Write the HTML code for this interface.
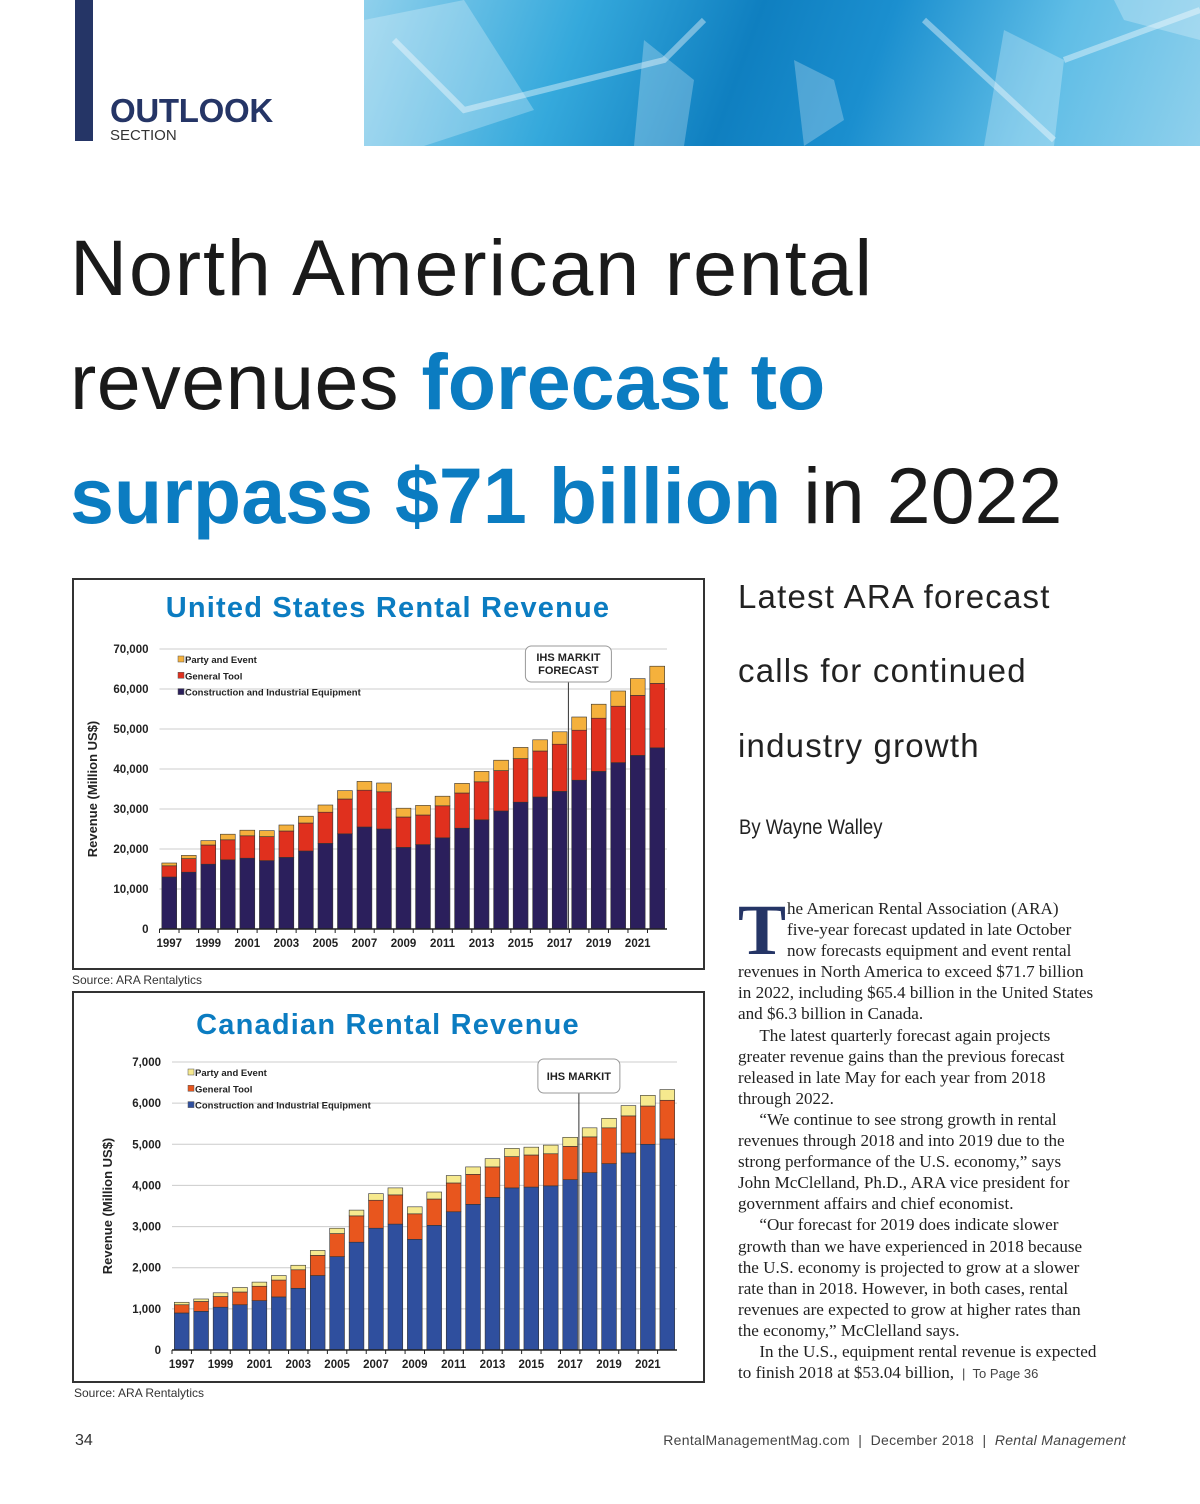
<!DOCTYPE html>
<html><head><meta charset="utf-8">
<style>
body{margin:0;width:1200px;height:1504px;position:relative;background:#fff;overflow:hidden;font-family:"Liberation Sans",sans-serif;}
.abs{position:absolute;white-space:nowrap;}
.title{font-size:79px;color:#1a1a1a;letter-spacing:0.5px;}
.title b{color:#0b7cc1;letter-spacing:0;}
.right{font-size:33px;color:#222;letter-spacing:1.2px;}
.body{font-family:"Liberation Serif",serif;font-size:17.1px;color:#222;line-height:21.1px;}
.box{position:absolute;border:2px solid #333;background:#fff;}
</style></head><body>
<div class="abs" style="left:364px;top:0;width:836px;height:146px;background:linear-gradient(110deg,#8fd0ec 0%,#35a9dc 25%,#0f7fc0 45%,#1b8fcf 60%,#5fbde6 80%,#8fd0ec 100%);overflow:hidden">
<svg width="836" height="146"><g fill="#ffffff" opacity="0.25"><polygon points="0,20 100,0 170,110 60,146 0,146"/><polygon points="280,40 330,80 320,146 270,146"/><polygon points="430,60 470,80 480,120 440,146"/><polygon points="640,30 700,60 690,146 620,146"/><polygon points="750,0 836,0 836,40 760,20"/></g><g stroke="#fff" stroke-width="6" opacity="0.4" fill="none"><path d="M30,40 L100,110 L300,60 L340,20"/><path d="M560,20 L690,140"/><path d="M700,60 L836,10"/></g></svg></div>
<div class="abs" style="left:75px;top:0;width:18px;height:141px;background:#253566"></div>
<div class="abs" style="left:110px;top:92px;font-size:33px;font-weight:bold;color:#253566;letter-spacing:-0.3px">OUTLOOK</div>
<div class="abs" style="left:110px;top:127px;font-size:15px;color:#333">SECTION</div>

<div class="abs title" style="left:70px;top:222px;letter-spacing:1.9px">North American rental</div>
<div class="abs title" style="left:70px;top:336px">revenues <b>forecast to</b></div>
<div class="abs title" style="left:70px;top:450px;letter-spacing:0"><b>surpass $71 billion</b> in 2022</div>

<div class="abs right" style="left:738px;top:578px">Latest ARA forecast</div>
<div class="abs right" style="left:738px;top:652px">calls for continued</div>
<div class="abs right" style="left:738px;top:727px">industry growth</div>
<div class="abs" style="left:739px;top:816px;font-size:21px;color:#222;transform:scaleX(0.88);transform-origin:left">By Wayne Walley</div>

<div class="abs" style="left:738px;top:902px;width:45px;height:52px;font-family:'Liberation Serif',serif;font-size:72px;font-weight:bold;color:#253566;line-height:56px">T</div>
<div class="abs body" style="left:738px;top:898px;width:390px">
<div style="padding-left:49px">he American Rental Association (ARA)</div>
<div style="padding-left:49px">five-year forecast updated in late October</div>
<div style="padding-left:49px">now forecasts equipment and event rental</div>
<div>revenues in North America to exceed $71.7 billion</div>
<div>in 2022, including $65.4 billion in the United States</div>
<div>and $6.3 billion in Canada.</div>
<div>&nbsp;&nbsp;&nbsp;&nbsp;&nbsp;The latest quarterly forecast again projects</div>
<div>greater revenue gains than the previous forecast</div>
<div>released in late May for each year from 2018</div>
<div>through 2022.</div>
<div>&nbsp;&nbsp;&nbsp;&nbsp;&nbsp;“We continue to see strong growth in rental</div>
<div>revenues through 2018 and into 2019 due to the</div>
<div>strong performance of the U.S. economy,” says</div>
<div>John McClelland, Ph.D., ARA vice president for</div>
<div>government affairs and chief economist.</div>
<div>&nbsp;&nbsp;&nbsp;&nbsp;&nbsp;“Our forecast for 2019 does indicate slower</div>
<div>growth than we have experienced in 2018 because</div>
<div>the U.S. economy is projected to grow at a slower</div>
<div>rate than in 2018. However, in both cases, rental</div>
<div>revenues are expected to grow at higher rates than</div>
<div>the economy,” McClelland says.</div>
<div>&nbsp;&nbsp;&nbsp;&nbsp;&nbsp;In the U.S., equipment rental revenue is expected</div>
<div>to finish 2018 at $53.04 billion, <span style="font-family:'Liberation Sans',sans-serif;font-size:13px;color:#444">&nbsp;| &nbsp;To Page 36</span></div>
</div>

<div class="box" style="left:72px;top:578px;width:629px;height:388px"></div>
<div class="box" style="left:72px;top:991px;width:629px;height:388px"></div>
<div class="abs" style="left:72px;top:973px;font-size:12px;color:#333">Source: ARA Rentalytics</div>
<div class="abs" style="left:74px;top:1386px;font-size:12px;color:#333">Source: ARA Rentalytics</div>

<svg id="charts" class="abs" style="left:0;top:0" width="1200" height="1504"></svg>

<div class="abs" style="left:75px;top:1432px;font-size:16px;color:#333">34</div>
<div class="abs" style="right:74px;top:1432px;font-size:14px;color:#444;letter-spacing:0.3px">RentalManagementMag.com &nbsp;| &nbsp;December 2018 &nbsp;| &nbsp;<i>Rental Management</i></div>

<script>
const years = [1997,1998,1999,2000,2001,2002,2003,2004,2005,2006,2007,2008,2009,2010,2011,2012,2013,2014,2015,2016,2017,2018,2019,2020,2021,2022];
const usConstruction = [13000,14200,16200,17300,17700,17100,17900,19500,21400,23800,25500,25000,20400,21100,22800,25200,27300,29500,31700,33000,34400,37200,39400,41600,43400,45300];
const usGeneralTool = [2800,3400,4800,5000,5600,6000,6600,7000,7800,8700,9200,9300,7600,7400,8000,8800,9500,10100,10900,11500,11800,12500,13300,14100,15000,16100];
const usPartyEvent = [700,800,1100,1400,1400,1500,1500,1700,1800,2100,2200,2200,2200,2400,2400,2400,2600,2600,2800,2800,3100,3300,3500,3800,4200,4300];
const caConstruction = [900,940,1040,1100,1200,1290,1500,1810,2270,2620,2960,3060,2690,3030,3360,3540,3710,3940,3960,3990,4140,4310,4530,4790,5000,5130];
const caGeneralTool = [200,240,260,310,350,410,450,490,560,640,680,710,620,640,700,730,740,760,780,780,810,870,870,900,930,940];
const caPartyEvent = [60,60,90,110,100,110,110,120,130,140,160,170,170,170,180,180,200,200,190,210,220,220,230,250,260,260];
const usTicks = [0,10000,20000,30000,40000,50000,60000,70000];
const caTicks = [0,1000,2000,3000,4000,5000,6000,7000];
const xLabelYears = [1997,1999,2001,2003,2005,2007,2009,2011,2013,2015,2017,2019,2021];
const seriesNames = ['Party and Event','General Tool','Construction and Industrial Equipment'];

const NS='http://www.w3.org/2000/svg';
const svg=document.getElementById('charts');
function mk(tag,attrs,parent){const e=document.createElementNS(NS,tag);for(const k in attrs)e.setAttribute(k,attrs[k]);(parent||svg).appendChild(e);return e;}
function fmt(v){return v.toLocaleString('en-US');}

function drawChart(c){
  const g=mk('g',{});
  
  
  const yS=v=>c.y0-(v/c.max)*(c.y0-c.yTop);
  const band=(c.x1-c.x0)/years.length;
  const xC=i=>c.x0+band*(i+0.5);
  const t=mk('text',{x:388,y:c.titleY,'text-anchor':'middle','font-size':29,'font-weight':'bold',fill:'#0b7cc1','letter-spacing':1.2},g);
  t.textContent=c.title;
  
  
  c.ticks.forEach(v=>{
    const l=mk('line',{x1:c.x0,x2:c.x1,y1:yS(v),y2:yS(v),stroke:'#ccc','stroke-width':1},g);
    
    
    const tt=mk('text',{x:c.x0-11,y:yS(v)+4,'text-anchor':'end','font-size':11.5,'font-weight':'bold',fill:'#222'},g);
    tt.textContent=fmt(v);
    
    
  });
  const yt=mk('text',{x:0,y:0,'text-anchor':'middle','font-size':13,'font-weight':'bold',fill:'#222',transform:`translate(${c.yTitleX},${(c.y0+c.yTop)/2}) rotate(-90)`},g);
  yt.textContent='Revenue (Million US$)';
  
  
  const bw=band*0.76;
  years.forEach((yr,i)=>{
    const vals=[c.s1[i],c.s2[i],c.s3[i]];let base=0;
    vals.forEach((v,k)=>{
      const r=mk('rect',{x:xC(i)-bw/2,y:yS(base+v),width:bw,height:yS(base)-yS(base+v),fill:c.colors[k],stroke:'#333','stroke-width':0.6},g);
      
      
      base+=v;
    });
  });
  mk('line',{x1:c.x0,x2:c.x1,y1:c.y0,y2:c.y0,stroke:'#222','stroke-width':1.5},g);
  years.forEach((yr,i)=>{mk('line',{x1:c.x0+band*i,x2:c.x0+band*i,y1:c.y0,y2:c.y0+4,stroke:'#222'},g);});
  xLabelYears.forEach(yr=>{
    const i=years.indexOf(yr);
    const tx=mk('text',{x:xC(i),y:c.y0+18,'text-anchor':'middle','font-size':11.5,'font-weight':'bold',fill:'#222'},g);
    tx.textContent=yr;
    
    
  });
  const fx=c.x0+band*(years.indexOf(2018))-1;
  mk('line',{x1:fx,x2:fx,y1:c.boxY+c.boxH,y2:c.y0,stroke:'#333','stroke-width':1},g);
  const fb=mk('rect',{x:fx-c.boxW/2,y:c.boxY,width:c.boxW,height:c.boxH,rx:6,fill:'#fff',stroke:'#999'},g);
  
  
  c.boxLines.forEach((s,j)=>{const ft=mk('text',{x:fx,y:c.boxY+(c.boxLines.length==1?21:15+j*13),'text-anchor':'middle','font-size':11,'font-weight':'bold',fill:'#222'},g);ft.textContent=s;});
  const lcol=[c.colors[2],c.colors[1],c.colors[0]];
  seriesNames.forEach((n,j)=>{
    const ly=c.legY+j*16.3;
    const sw=mk('rect',{x:c.legX,y:ly-7,width:6,height:6,fill:lcol[j],stroke:'#555','stroke-width':0.5},g);
    
    
    const lt=mk('text',{x:c.legX+7,y:ly,'font-size':9.5,'font-weight':'bold',fill:'#222'},g);
    lt.textContent=n;
    
    
  });
}
drawChart({key:'us',title:'United States Rental Revenue',titleY:617,x0:159.5,x1:667,y0:929,yTop:649,max:70000,ticks:usTicks,yTitleX:97,
  s1:usConstruction,s2:usGeneralTool,s3:usPartyEvent,colors:['#2b1f5c','#e0301e','#f5b13c'],boxY:646,boxH:36,boxW:86,boxLines:['IHS MARKIT','FORECAST'],legX:178,legY:663});
drawChart({key:'canada',title:'Canadian Rental Revenue',titleY:1034,x0:172,x1:677,y0:1350,yTop:1062,max:7000,ticks:caTicks,yTitleX:112,
  s1:caConstruction,s2:caGeneralTool,s3:caPartyEvent,colors:['#2f4f9e','#e8561e','#f6e98e'],boxY:1059,boxH:34,boxW:82,boxLines:['IHS MARKIT'],legX:188,legY:1076});
</script>
</body></html>
